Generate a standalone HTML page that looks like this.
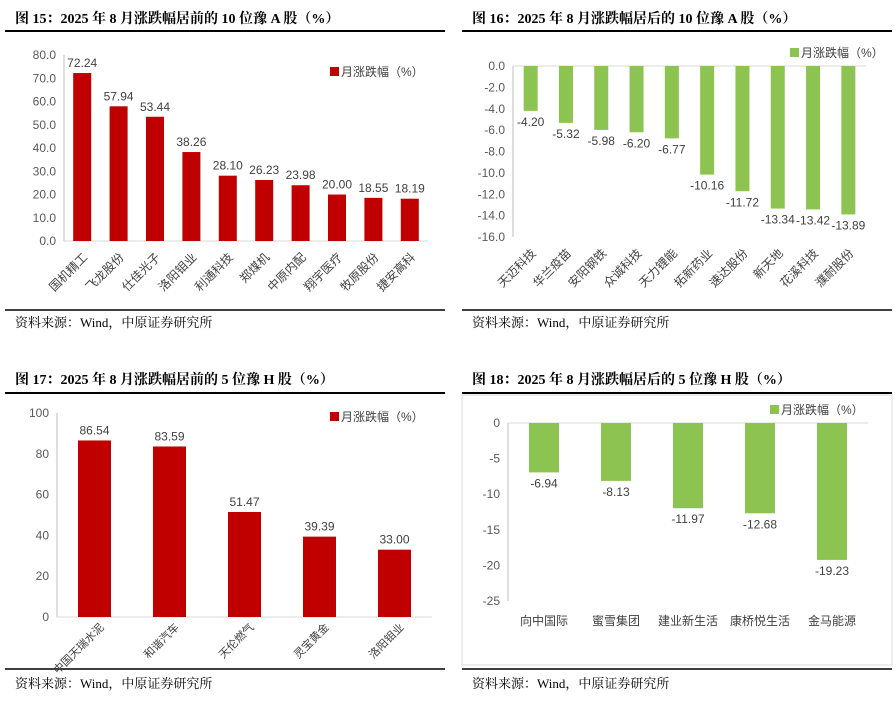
<!DOCTYPE html>
<html><head><meta charset="utf-8"><style>
body{margin:0;background:#fff;width:896px;height:700px;overflow:hidden}
svg{font-family:"Liberation Sans","Noto Sans CJK SC",sans-serif}
.t{font-family:"Liberation Serif","Noto Serif CJK SC",serif;font-weight:bold;font-size:14px}
.src{font-family:"Liberation Serif","Noto Serif CJK SC",serif;font-size:13px}
.tk{font-size:12px;fill:#595959}
.v{font-size:12px;fill:#404040}
.c{font-size:12px;fill:#404040}
.cs{font-size:11px;fill:#404040}
</style></head><body>
<svg id="s" width="896" height="700" xmlns="http://www.w3.org/2000/svg">
<text class="t" x="15" y="23">图 15：2025 年 8 月涨跌幅居前的 10 位豫 A 股（%）</text>
<line x1="5" y1="31" x2="445" y2="31" stroke="#000" stroke-width="2"/>
<text class="t" x="472" y="23">图 16：2025 年 8 月涨跌幅居后的 10 位豫 A 股（%）</text>
<line x1="462" y1="31" x2="892" y2="31" stroke="#000" stroke-width="2"/>
<line x1="5" y1="310" x2="445" y2="310" stroke="#000" stroke-width="1.5"/>
<line x1="462" y1="310" x2="892" y2="310" stroke="#000" stroke-width="1.5"/>
<text class="src" x="15" y="327">资料来源：Wind，中原证券研究所</text>
<text class="src" x="472" y="327">资料来源：Wind，中原证券研究所</text>
<text class="t" x="15" y="384">图 17：2025 年 8 月涨跌幅居前的 5 位豫 H 股（%）</text>
<line x1="5" y1="393" x2="445" y2="393" stroke="#000" stroke-width="2"/>
<text class="t" x="472" y="384">图 18：2025 年 8 月涨跌幅居后的 5 位豫 H 股（%）</text>
<line x1="462" y1="393" x2="892" y2="393" stroke="#000" stroke-width="2"/>
<line x1="5" y1="669" x2="445" y2="669" stroke="#000" stroke-width="1.5"/>
<line x1="462" y1="669" x2="892" y2="669" stroke="#000" stroke-width="1.5"/>
<text class="src" x="15" y="688">资料来源：Wind，中原证券研究所</text>
<text class="src" x="472" y="688">资料来源：Wind，中原证券研究所</text>
<rect x="462" y="395" width="430" height="270" fill="none" stroke="#d9d9d9"/>
</svg>
<script>
const cat15=["国机精工","飞龙股份","仕佳光子","洛阳钼业","利通科技","郑煤机","中原内配","翔宇医疗","牧原股份","捷安高科"];
const val15=[72.24,57.94,53.44,38.26,28.10,26.23,23.98,20.00,18.55,18.19];
const ticks15=[0,10,20,30,40,50,60,70,80];
const cat16=["天迈科技","华兰疫苗","安阳钢铁","众诚科技","天力锂能","拓新药业","速达股份","新天地","花溪科技","濮耐股份"];
const val16=[-4.20,-5.32,-5.98,-6.20,-6.77,-10.16,-11.72,-13.34,-13.42,-13.89];
const ticks16=[0,-2,-4,-6,-8,-10,-12,-14,-16];
const cat17=["中国天瑞水泥","和谐汽车","天伦燃气","灵宝黄金","洛阳钼业"];
const val17=[86.54,83.59,51.47,39.39,33.00];
const ticks17=[0,20,40,60,80,100];
const cat18=["向中国际","蜜雪集团","建业新生活","康桥悦生活","金马能源"];
const val18=[-6.94,-8.13,-11.97,-12.68,-19.23];
const ticks18=[0,-5,-10,-15,-20,-25];
const S=document.getElementById('s'),NS="http://www.w3.org/2000/svg";
function mk(t,a,txt){const e=document.createElementNS(NS,t);for(const k in a)e.setAttribute(k,a[k]);if(txt!=null)e.textContent=txt;S.appendChild(e);return e;}
function chart(o){
 const y=v=>o.y0+(v-o.vmin)*(o.y1-o.y0)/(o.vmax-o.vmin);
 const x=i=>o.xa+(i+0.5)*o.step;
 const zero=y(0);
 const ax=mk('line',{x1:o.xa,y1:y(o.vmin),x2:o.xa,y2:y(o.vmax),stroke:'#bfbfbf'});
 
 
 o.ticks.forEach(t=>{const e=mk('text',{x:o.xa-8,y:y(t)+4,'text-anchor':'end',class:'tk'},o.dec?t.toFixed(1):String(t));
  
  });
 const bl=mk('line',{x1:o.xa,y1:zero,x2:o.xa+o.step*o.cats.length,y2:zero,stroke:'#d9d9d9'});
 
 
 o.vals.forEach((v,i)=>{
  const top=Math.min(y(v),zero),h=Math.abs(y(v)-zero);
  const r=mk('rect',{x:x(i)-o.bw/2,y:top,width:o.bw,height:h,fill:o.color});
  
  
  const ly=v>=0?y(v)-6:y(v)+15;
  const l=mk('text',{x:x(i),y:ly,'text-anchor':'middle',class:'v'},v.toFixed(2));
  
  
  let c;
  if(o.rot){const cx=x(i)+(o.rdx||6),cy=o.ly;c=mk('text',{x:cx,y:cy,'text-anchor':'end',class:o.cc||'c',transform:`rotate(-45 ${cx} ${cy})`},o.cats[i]);}
  else c=mk('text',{x:x(i),y:o.ly,'text-anchor':'middle',class:'c'},o.cats[i]);
  
  
 });
 const lr=mk('rect',{x:o.lgx,y:o.lgy-9,width:9,height:9,fill:o.color});
 
 
 const lt=mk('text',{x:o.lgx+11,y:o.lgy,class:'c'},'月涨跌幅（%）');
 
 
}
chart({id:'chart15',cats:cat15,vals:val15,ticks:ticks15,vmin:0,vmax:80,y0:241,y1:55,xa:64,step:36.4,bw:18,color:'#c00000',dec:true,rot:true,ly:258,lgx:330,lgy:76});
chart({id:'chart16',cats:cat16,vals:val16,ticks:ticks16,vmin:0,vmax:-16,y0:66,y1:237,xa:513,step:35.3,bw:14,color:'#8dc451',dec:true,rot:true,ly:254,lgx:790,lgy:57});
chart({id:'chart17',cats:cat17,vals:val17,ticks:ticks17,vmin:0,vmax:100,y0:617,y1:413,xa:57,step:75,bw:33,color:'#c00000',dec:false,rot:true,ly:628,rdx:10,cc:'cs',lgx:330,lgy:421});
chart({id:'chart18',cats:cat18,vals:val18,ticks:ticks18,vmin:0,vmax:-25,y0:423,y1:601,xa:508,step:72,bw:30,color:'#8dc451',dec:false,rot:false,ly:625,lgx:770,lgy:414});
</script>
</body></html>
